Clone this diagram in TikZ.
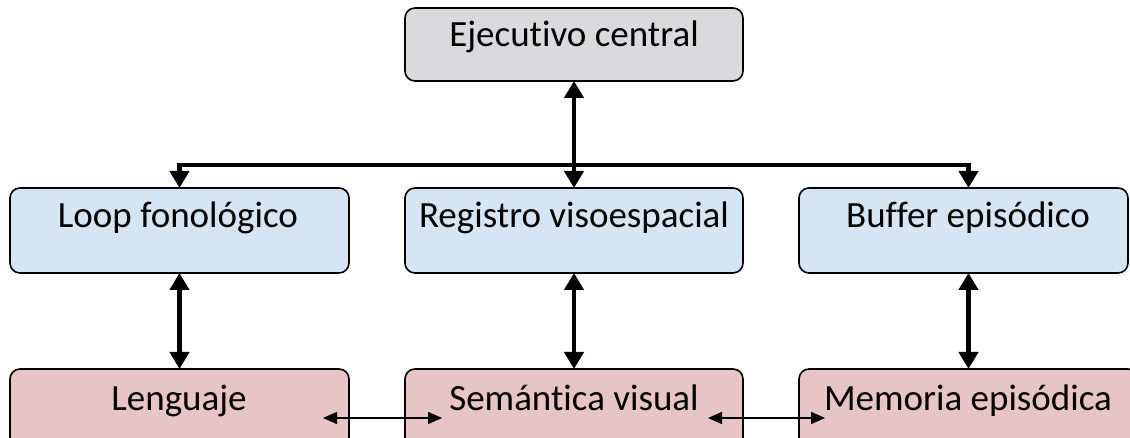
\documentclass[tikz,border=0pt]{standalone}
\usepackage{fontspec}
\setmainfont{Carlito}[Ligatures={NoCommon}]
\usetikzlibrary{arrows.meta,calc}
\definecolor{greyfill}{RGB}{218,218,220}
\definecolor{bluefill}{RGB}{214,229,244}
\definecolor{pinkfill}{RGB}{231,196,198}
\tikzset{
  box/.style={draw=black, line width=1.6pt, rounded corners=10pt, inner sep=0pt, outer sep=0pt},
  lbl/.style={anchor=base, inner sep=0pt, font=\fontsize{37}{42}\selectfont},
  bigarrow/.style={line width=4.5pt, {Triangle[width=19pt,length=17pt]}-{Triangle[width=19pt,length=17pt]}},
  busarrow/.style={line width=4.5pt, -{Triangle[width=19pt,length=17pt]}},
  thinarrow/.style={line width=1.5pt, {Triangle[width=12pt,length=14pt]}-{Triangle[width=12pt,length=14pt]}}
}
\begin{document}
\begin{tikzpicture}[x=1pt,y=-1pt]
\useasboundingbox (0,0) rectangle (1130,438);
\clip (0,0) rectangle (1130,438);
% boxes
\node[box, fill=greyfill, minimum width=338pt, minimum height=73pt] (ec) at (574,44.5) {};
\node[box, fill=bluefill, minimum width=339pt, minimum height=85pt] (lf) at (179.5,230.5) {};
\node[box, fill=bluefill, minimum width=338pt, minimum height=85pt] (rv) at (574,230.5) {};
\node[box, fill=bluefill, minimum width=329pt, minimum height=85pt] (bf) at (963.5,230.5) {};
\node[box, fill=pinkfill, minimum width=339pt, minimum height=85pt] (len) at (179.5,411.5) {};
\node[box, fill=pinkfill, minimum width=338pt, minimum height=85pt] (sv) at (574,411.5) {};
\node[box, fill=pinkfill, minimum width=339pt, minimum height=85pt] (me) at (968.5,411.5) {};
% labels
\node[lbl] (tec) at (574,47) {Ejecutivo central};
\node[lbl] (tlf) at (178,228) {Loop fonológico};
\node[lbl] (trv) at (574,228) {Registro visoespacial};
\node[lbl] (tbf) at (968,228) {Buffer episódico};
\node[lbl] (tlen) at (179,410) {Lenguaje};
\node[lbl] (tsv) at (574,410) {Semántica visual};
\node[lbl] (tme) at (968,410) {Memoria episódica};
% bus
\coordinate (bus) at (574,165);
\draw[busarrow] ([xshift=0.5pt]bus) -| (lf.north);
\draw[busarrow] ([xshift=-0.5pt]bus) -| (bf.north -| me.north);
\draw[bigarrow] (ec.south) -- (rv.north);
% vertical arrows
\draw[bigarrow] (lf.south) -- (len.north);
\draw[bigarrow] (rv.south) -- (sv.north);
\draw[bigarrow] (bf.south -| me.north) -- (me.north);
% horizontal thin arrows
\coordinate (h1a) at (323,418);
\coordinate (h1b) at (442,418);
\coordinate (h2a) at (708,418);
\coordinate (h2b) at (825,418);
\draw[thinarrow] (h1a) -- (h1b);
\draw[thinarrow] (h2a) -- (h2b);
\end{tikzpicture}
\end{document}
